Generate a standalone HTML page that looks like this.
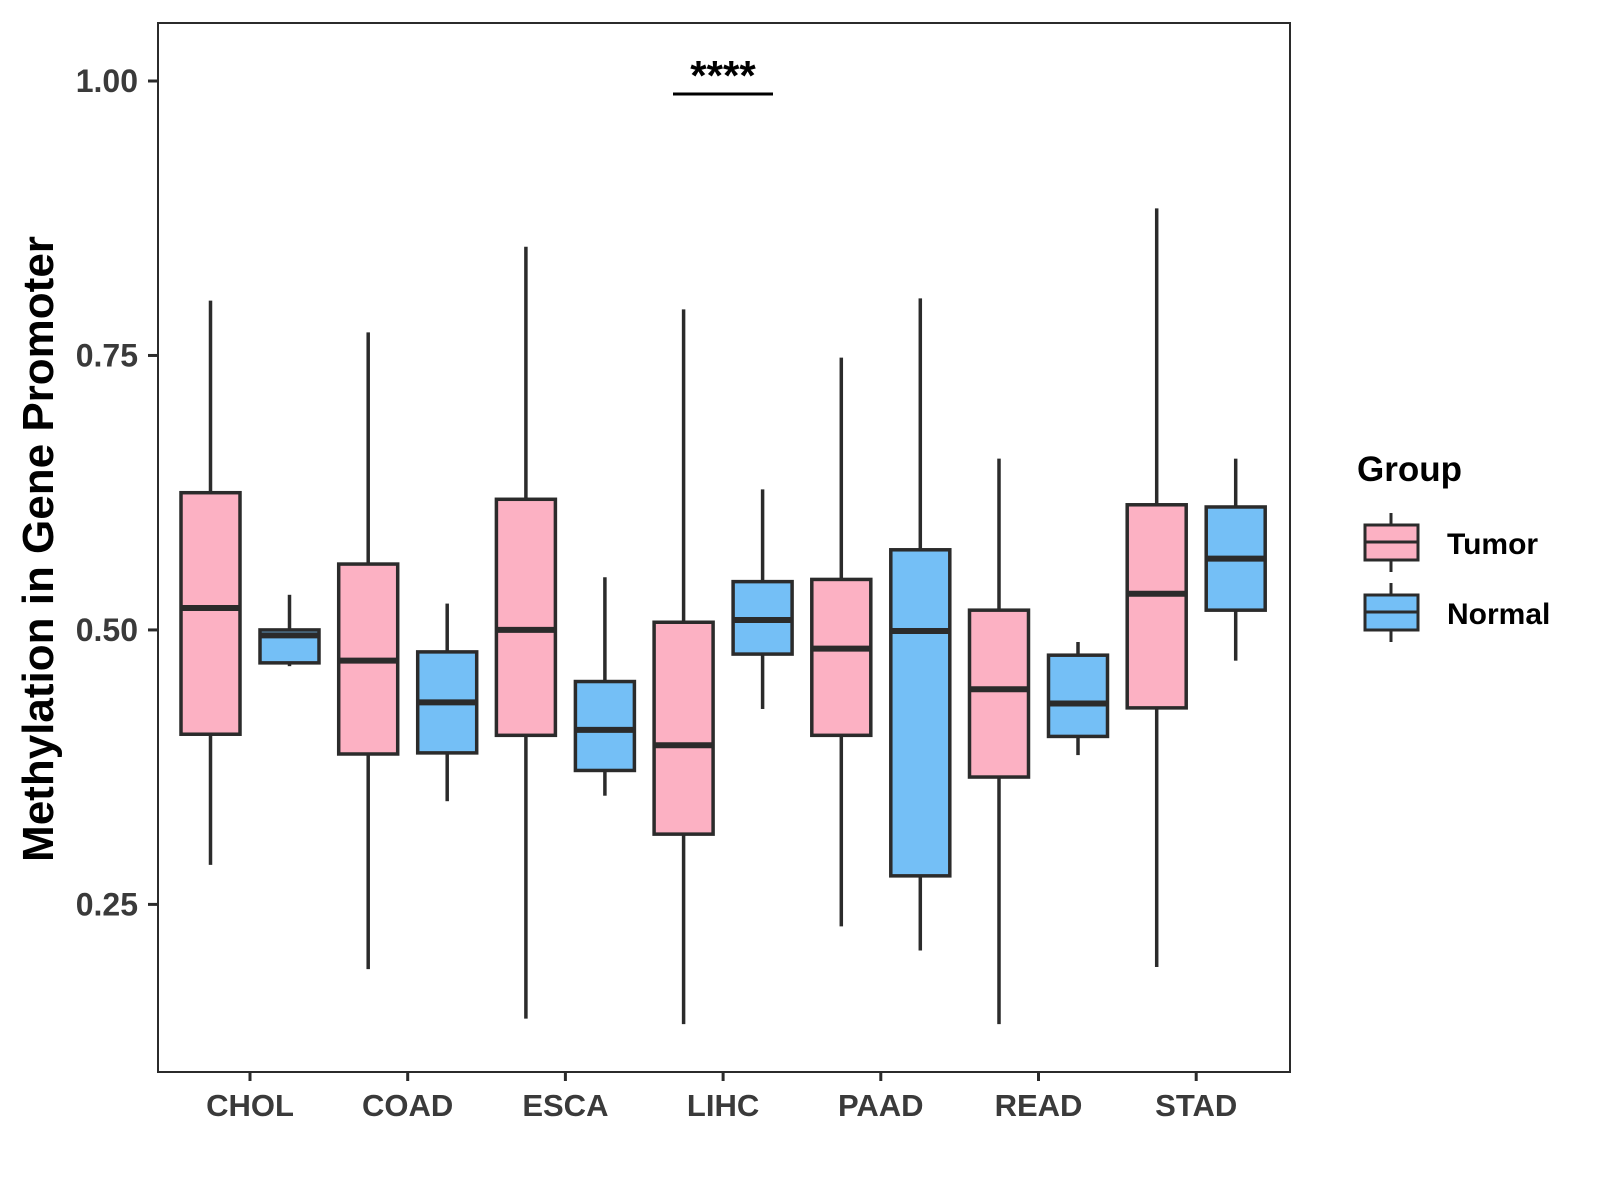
<!DOCTYPE html>
<html><head><meta charset="utf-8"><style>
html,body{margin:0;padding:0;background:#fff;}
svg{display:block;font-family:"Liberation Sans",Arial,sans-serif;}
</style></head><body>
<svg id="chart" width="1600" height="1200" viewBox="0 0 1600 1200">
<rect x="158" y="23" width="1132" height="1049" fill="#fff" stroke="#2b2b2b" stroke-width="2"/>
<g id="marks"></g>
<g id="axes"></g>
<text x="53" y="549" transform="rotate(-90 53 549)" text-anchor="middle" font-size="44" font-weight="bold" fill="#000">Methylation in Gene Promoter</text>
<line x1="673" y1="94" x2="773" y2="94" stroke="#000" stroke-width="3"/>
<text x="723" y="90" text-anchor="middle" font-size="42" font-weight="bold" fill="#000">****</text>
<g transform="translate(-16,-6)">
<text x="1373" y="487" font-size="35" font-weight="bold" fill="#000">Group</text>
<g>
<line x1="1407" y1="519" x2="1407" y2="578" stroke="#2b2b2b" stroke-width="3"/>
<rect x="1381" y="531" width="53" height="35" fill="#FCB1C3" stroke="#2b2b2b" stroke-width="3"/>
<line x1="1381" y1="548" x2="1434" y2="548" stroke="#2b2b2b" stroke-width="3"/>
<text x="1463" y="560" font-size="30" font-weight="bold" fill="#000">Tumor</text>
</g>
<g>
<line x1="1407" y1="589" x2="1407" y2="648" stroke="#2b2b2b" stroke-width="3"/>
<rect x="1381" y="601" width="53" height="35" fill="#74BFF6" stroke="#2b2b2b" stroke-width="3"/>
<line x1="1381" y1="618" x2="1434" y2="618" stroke="#2b2b2b" stroke-width="3"/>
<text x="1463" y="630" font-size="30" font-weight="bold" fill="#000">Normal</text>
</g>
</g>
</svg>
<script>
const categories = ["CHOL","COAD","ESCA","LIHC","PAAD","READ","STAD"];
// [whiskerLow, q1, median, q3, whiskerHigh]
const tumorStats = [
 [0.286,0.405,0.520,0.625,0.800],
 [0.191,0.387,0.472,0.560,0.771],
 [0.146,0.404,0.500,0.619,0.849],
 [0.141,0.314,0.395,0.507,0.792],
 [0.230,0.404,0.483,0.546,0.748],
 [0.141,0.366,0.446,0.518,0.656],
 [0.193,0.429,0.533,0.614,0.884]
];
const normalStats = [
 [0.467,0.470,0.495,0.500,0.532],
 [0.344,0.388,0.434,0.480,0.524],
 [0.349,0.372,0.409,0.453,0.548],
 [0.428,0.478,0.509,0.544,0.628],
 [0.208,0.276,0.499,0.573,0.802],
 [0.386,0.403,0.433,0.477,0.489],
 [0.472,0.518,0.565,0.612,0.656]
];
const yTicks = [0.25,0.50,0.75,1.00];
const yTickLabels = ["0.25","0.50","0.75","1.00"];

const NS="http://www.w3.org/2000/svg";
function yScale(v){ return 81 + (1 - v) * (904.4 - 81) / 0.75; }
function xScale(i){ return 250 + i * 157.7; }
const marks=document.getElementById('marks'), axes=document.getElementById('axes');
function mk(tag, attrs, parent){ const e=document.createElementNS(NS,tag); for(const k in attrs) e.setAttribute(k,attrs[k]); parent.appendChild(e); return e; }

function drawBox(s, cx, fill, name, parent){
  const g=mk('g',{},parent);
  
  
  const w=59;
  mk('line',{x1:cx,x2:cx,y1:yScale(s[4]),y2:yScale(s[3]),stroke:'#2b2b2b','stroke-width':3.5},g);
  mk('line',{x1:cx,x2:cx,y1:yScale(s[1]),y2:yScale(s[0]),stroke:'#2b2b2b','stroke-width':3.5},g);
  mk('rect',{x:cx-w/2,y:yScale(s[3]),width:w,height:yScale(s[1])-yScale(s[3]),fill:fill,stroke:'#2b2b2b','stroke-width':3.5},g);
  mk('line',{x1:cx-w/2,x2:cx+w/2,y1:yScale(s[2]),y2:yScale(s[2]),stroke:'#2b2b2b','stroke-width':6},g);
}
categories.forEach((c,i)=>{
  drawBox(tumorStats[i], xScale(i)-39.5, '#FCB1C3', 'box-tumor-'+c.toLowerCase(), marks);
  drawBox(normalStats[i], xScale(i)+39.5, '#74BFF6', 'box-normal-'+c.toLowerCase(), marks);
  const t=mk('line',{x1:xScale(i),x2:xScale(i),y1:1072,y2:1081,stroke:'#2b2b2b','stroke-width':3},axes);
  
  
  const l=mk('text',{x:xScale(i),y:1116,'text-anchor':'middle','font-size':31,'font-weight':'bold',fill:'#3a3a3a'},axes);
  l.textContent=c;
  
  
});
yTicks.forEach((v,i)=>{
  const t=mk('line',{x1:148,x2:158,y1:yScale(v),y2:yScale(v),stroke:'#2b2b2b','stroke-width':3},axes);
  
  
  const l=mk('text',{x:138,y:yScale(v)+11,'text-anchor':'end','font-size':32,'font-weight':'bold',fill:'#3a3a3a'},axes);
  l.textContent=yTickLabels[i];
  
  
});
</script>
</body></html>
